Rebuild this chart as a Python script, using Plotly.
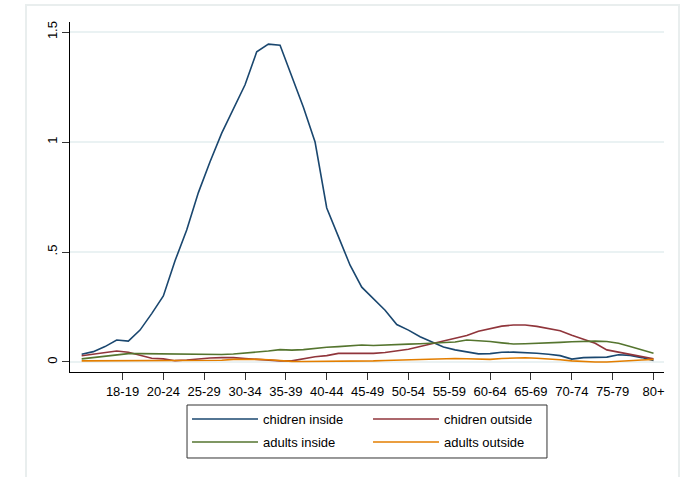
import plotly.graph_objects as go

# Age-group axis labels (ticks fall every 3.5 grid steps)
age_labels = ["18-19", "20-24", "25-29", "30-34", "35-39", "40-44", "45-49",
              "50-54", "55-59", "60-64", "65-69", "70-74", "75-79", "80+"]
tick_pos = [3.5 * (k + 1) for k in range(len(age_labels))]

# Evaluation grid (50 points)
grid = list(range(50))

children_inside = [0.035, 0.047, 0.07, 0.10, 0.095, 0.145, 0.22, 0.30, 0.46, 0.60,
                   0.77, 0.91, 1.04, 1.15, 1.26, 1.41, 1.445, 1.44, 1.30, 1.158,
                   1.00, 0.70, 0.57, 0.44, 0.34, 0.288, 0.235, 0.17, 0.145, 0.115,
                   0.09, 0.068, 0.055, 0.045, 0.037, 0.038, 0.044, 0.045, 0.044, 0.04,
                   0.035, 0.029, 0.013, 0.02, 0.021, 0.022, 0.033, 0.03, 0.02, 0.007]

children_outside = [0.028, 0.035, 0.042, 0.05, 0.044, 0.03, 0.017, 0.014, 0.006, 0.009,
                    0.015, 0.018, 0.02, 0.02, 0.016, 0.012, 0.008, 0.005, 0.005, 0.014,
                    0.024, 0.029, 0.039, 0.039, 0.039, 0.039, 0.043, 0.05, 0.058, 0.07,
                    0.082, 0.093, 0.105, 0.12, 0.14, 0.151, 0.163, 0.168, 0.168, 0.162,
                    0.153, 0.142, 0.122, 0.104, 0.085, 0.055, 0.045, 0.034, 0.024, 0.014]

adults_inside = [0.014, 0.02, 0.027, 0.035, 0.038, 0.038, 0.037, 0.036, 0.036, 0.035,
                 0.035, 0.034, 0.034, 0.036, 0.04, 0.045, 0.05, 0.056, 0.054, 0.056,
                 0.063, 0.067, 0.07, 0.074, 0.077, 0.075, 0.076, 0.079, 0.081, 0.083,
                 0.085, 0.088, 0.091, 0.10, 0.098, 0.093, 0.087, 0.082, 0.083, 0.084,
                 0.086, 0.089, 0.092, 0.095, 0.095, 0.093, 0.085, 0.07, 0.055, 0.04]

adults_outside = [0.005, 0.005, 0.005, 0.006, 0.006, 0.006, 0.006, 0.007, 0.007, 0.007,
                  0.008, 0.008, 0.008, 0.012, 0.013, 0.012, 0.01, 0.006, 0.003, 0.002,
                  0.002, 0.002, 0.003, 0.003, 0.004, 0.005, 0.007, 0.009, 0.011, 0.013,
                  0.015, 0.016, 0.016, 0.015, 0.012, 0.012, 0.016, 0.018, 0.019, 0.017,
                  0.015, 0.01, 0.005, 0.001, 0.0, 0.0, 0.002, 0.005, 0.009, 0.012]

y_ticks = [0, 0.5, 1, 1.5]
y_ticktext = ["0", ".5", "1", "1.5"]

# name, values, colour, legend row
series = [
    ("chidren inside", children_inside, "#1a476f", "legend"),
    ("chidren outside", children_outside, "#90353b", "legend"),
    ("adults inside", adults_inside, "#55752f", "legend2"),
    ("adults outside", adults_outside, "#e37e00", "legend2"),
]

fig = go.Figure()
for name, vals, color, leg in series:
    fig.add_trace(go.Scatter(x=grid, y=vals, mode="lines", name=name, legend=leg,
                             line=dict(color=color, width=1.6)))

font = dict(family="Liberation Sans, Arial, sans-serif", size=13, color="black")

legend_row = dict(
    orientation="h", x=0.197, xanchor="left", yanchor="top",
    entrywidth=100, entrywidthmode="pixels", itemwidth=66,
    borderwidth=0, bgcolor="rgba(0,0,0,0)", font=font,
)

fig.update_layout(
    width=688, height=477,
    margin=dict(l=70, r=24, t=22, b=105, autoexpand=False),
    paper_bgcolor="white", plot_bgcolor="white",
    font=font,
    showlegend=True,
    legend=dict(legend_row, y=-0.0914),
    legend2=dict(legend_row, y=-0.1571),
    xaxis=dict(
        range=[-1.0, 49.9], tickmode="array", tickvals=tick_pos, ticktext=age_labels,
        showgrid=False, zeroline=False, showline=True, linecolor="black", linewidth=1,
        ticks="outside", ticklen=7, tickcolor="#333333", tickwidth=1,
        tickfont=font,
    ),
    yaxis=dict(
        range=[-0.0455, 1.5455], tickmode="array", tickvals=y_ticks, ticktext=y_ticktext,
        showgrid=True, gridcolor="#eaf2f3", gridwidth=1.5, zeroline=False,
        showline=True, linecolor="black", linewidth=1,
        ticks="outside", ticklen=7, tickcolor="#333333", tickwidth=1,
        tickangle=-90, tickfont=font,
    ),
    shapes=[
        # outer graph-region frame
        dict(type="rect", xref="paper", yref="paper",
             x0=-0.0741, x1=1.0253, y0=-0.5, y1=1.0486,
             line=dict(color="#e9eeee", width=2), fillcolor="rgba(0,0,0,0)",
             layer="below"),
        # legend frame
        dict(type="rect", xref="paper", yref="paper",
             x0=0.197, x1=0.803, y0=-0.2457, y1=-0.0943,
             line=dict(color="#333333", width=1), fillcolor="white",
             layer="below"),
    ],
)

fig.write_html("out.html")
